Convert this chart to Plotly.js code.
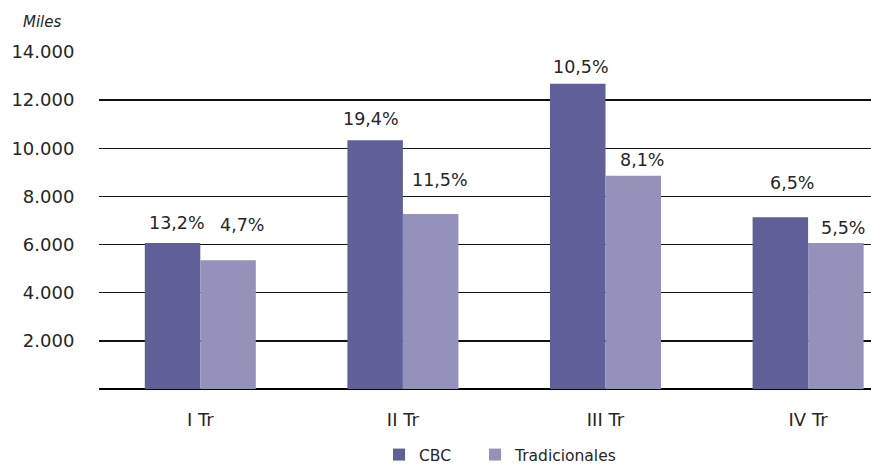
<!DOCTYPE html>
<html>
<head>
<meta charset="utf-8">
<script src="https://cdn.plot.ly/plotly-3.0.1.min.js"></script>
<style>html,body{margin:0;padding:0;background:#fff;}#chart{width:871px;height:465px;}</style>
</head>
<body>
<div id="chart"></div>
<script>
var categories = ['I Tr', 'II Tr', 'III Tr', 'IV Tr'];
var cbcValues = [6070, 10330, 12680, 7140];
var tradValues = [5350, 7270, 8860, 6070];
var cbcLabels = ['13,2%', '19,4%', '10,5%', '6,5%'];
var tradLabels = ['4,7%', '11,5%', '8,1%', '5,5%'];
var yTicks = [2000, 4000, 6000, 8000, 10000, 12000, 14000];
var seriesNames = ['CBC', 'Tradicionales'];

var FONT = 'DejaVu Sans, Verdana, sans-serif';
var TXT = '#262626';
var colors = ['#605F98', '#9491BA'];

// label nudges (pixel offsets relative to bar top/center), layout only
var nudgeCBC = [[4, 13], [-4, 14], [3, 10], [12, 27]];
var nudgeTrad = [[14, 28], [9, 27], [9, 9], [7, 8]];

var traces = [
  {type: 'bar', x: categories, y: cbcValues, name: seriesNames[0], marker: {color: colors[0]}, hoverinfo: 'skip', legend: 'legend'},
  {type: 'bar', x: categories, y: tradValues, name: seriesNames[1], marker: {color: colors[1]}, hoverinfo: 'skip', legend: 'legend2'}
];

var plotW = 772, plotH = 337.5, catPx = 202.6;
var halfBar = 0.548 * catPx / 4;
var annotations = [];
function addLabels(vals, labels, nudges, side) {
  for (var i = 0; i < vals.length; i++) {
    annotations.push({
      x: categories[i], y: vals[i], xref: 'x', yref: 'y',
      text: labels[i], showarrow: false,
      xanchor: 'center', yanchor: 'bottom',
      xshift: side * halfBar + nudges[i][0],
      yshift: nudges[i][1] - 5,
      font: {family: FONT, size: 17.5, color: TXT}
    });
  }
}
addLabels(cbcValues, cbcLabels, nudgeCBC, -1);
addLabels(tradValues, tradLabels, nudgeTrad, 1);

annotations.push({
  xref: 'paper', yref: 'paper', x: (42 - 99) / plotW, y: (389.5 - 22) / plotH,
  xanchor: 'center', yanchor: 'middle', showarrow: false,
  text: '<i>Miles</i>', font: {family: FONT, size: 15, color: TXT}
});

function legendAt(px) {
  return {
    orientation: 'h', xref: 'container', yref: 'container',
    x: px / 871, xanchor: 'left',
    y: (465 - 455) / 465, yanchor: 'middle',
    font: {family: FONT, size: 15.5, color: TXT},
    bgcolor: 'rgba(0,0,0,0)',
    itemclick: false, itemdoubleclick: false
  };
}

var layout = {
  width: 871, height: 465,
  margin: {l: 99, r: 0, t: 52, b: 75.5, autoexpand: false},
  paper_bgcolor: '#fff', plot_bgcolor: '#fff',
  separators: ',.',
  barmode: 'group', bargap: 0.452, bargroupgap: 0,
  showlegend: true,
  legend: legendAt(379),
  legend2: legendAt(475),
  xaxis: {
    type: 'category', range: [-0.5, -0.5 + plotW / catPx],
    showgrid: false, zeroline: false, showline: false,
    ticks: 'outside', ticklen: 14, tickcolor: 'rgba(0,0,0,0)',
    tickfont: {family: FONT, size: 18, color: TXT}
  },
  yaxis: {
    range: [0, 14000], tickvals: yTicks, tickformat: ',d',
    showgrid: true, gridcolor: '#111', gridwidth: 1.4,
    zeroline: true, zerolinecolor: '#000', zerolinewidth: 2.2,
    showline: false,
    ticks: 'outside', ticklen: 20, tickcolor: 'rgba(0,0,0,0)',
    tickfont: {family: FONT, size: 18, color: TXT}
  },
  annotations: annotations
};

Plotly.newPlot('chart', traces, layout, {staticPlot: true, displayModeBar: false});
</script>
</body>
</html>
